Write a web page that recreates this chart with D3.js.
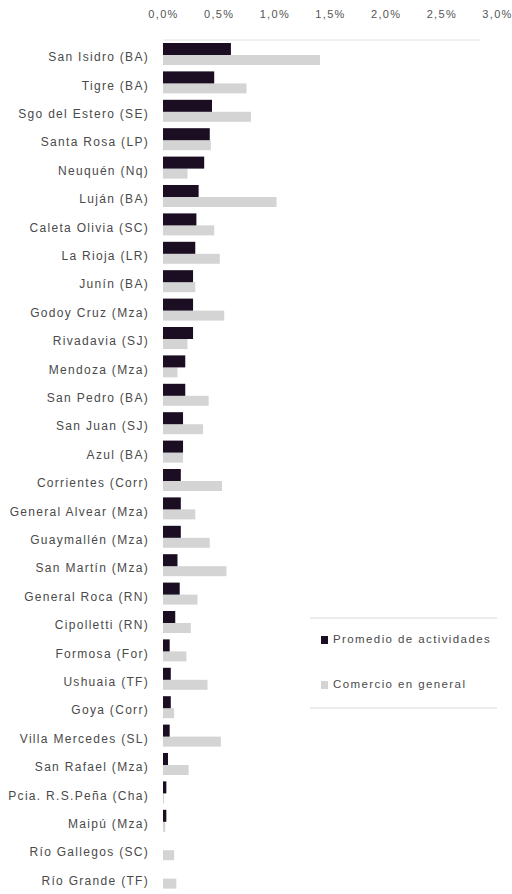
<!DOCTYPE html>
<html>
<head>
<meta charset="utf-8">
<script src="https://cdn.jsdelivr.net/npm/d3@7"></script>
<style>
  body { margin: 0; background: #fff; }
  text { font-family: "Liberation Sans", Arial, sans-serif; }
</style>
</head>
<body>
<div id="chart"></div>
<script>
var width = 512;
var height = 894;

var ciudades = [
  "San Isidro  (BA)", "Tigre (BA)", "Sgo del Estero (SE)", "Santa Rosa (LP)",
  "Neuquén  (Nq)", "Luján (BA)", "Caleta Olivia (SC)", "La Rioja (LR)",
  "Junín (BA)", "Godoy Cruz (Mza)", "Rivadavia (SJ)", "Mendoza (Mza)",
  "San Pedro (BA)", "San Juan (SJ)", "Azul (BA)", "Corrientes (Corr)",
  "General Alvear (Mza)", "Guaymallén (Mza)", "San Martín (Mza)", "General Roca (RN)",
  "Cipolletti (RN)", "Formosa (For)", "Ushuaia (TF)", "Goya (Corr)",
  "Villa Mercedes (SL)", "San Rafael (Mza)", "Pcia. R.S.Peña (Cha)", "Maipú (Mza)",
  "Río Gallegos (SC)", "Río Grande (TF)"
];

// valores en %
var promedio = [
  0.61, 0.46, 0.44, 0.42, 0.37, 0.32, 0.30, 0.29, 0.27, 0.27,
  0.27, 0.20, 0.20, 0.18, 0.18, 0.16, 0.16, 0.16, 0.13, 0.15,
  0.11, 0.06, 0.07, 0.07, 0.06, 0.045, 0.03, 0.03, 0, 0
];
var comercio = [
  1.41, 0.75, 0.79, 0.43, 0.22, 1.02, 0.46, 0.51, 0.29, 0.55,
  0.22, 0.13, 0.41, 0.36, 0.18, 0.53, 0.29, 0.42, 0.57, 0.31,
  0.25, 0.21, 0.40, 0.10, 0.52, 0.23, 0.01, 0.02, 0.10, 0.12
];

var ticks = [0, 0.5, 1, 1.5, 2, 2.5, 3];
var series = ["Promedio de actividades", "Comercio en general"];
var colors = ["#1b0d22", "#d4d4d4"];

var svg = d3
  .select("#chart")
  .append("svg")
  .attr("width", width)
  .attr("height", height);

var x = d3.scaleLinear().domain([0, 3]).range([163, 497]);

var y = d3
  .scaleBand()
  .domain(ciudades)
  .range([40, 40 + ciudades.length * 28.4]);

// eje superior
var xAxis = d3
  .axisTop(x)
  .tickValues(ticks)
  .tickSize(0)
  .tickFormat(function(d) {
    return d.toFixed(1).replace(".", ",") + "%";
  });

var gx = svg
  .append("g")
  .attr("transform", "translate(0,21)")
  .call(xAxis);
gx.select(".domain").remove();
gx.selectAll("text")
  .attr("fill", "#555")
  .style("font-size", "11px")
  .style("letter-spacing", "1.3px");

svg
  .append("line")
  .attr("x1", x(0))
  .attr("x2", x(2.85))
  .attr("y1", 40)
  .attr("y2", 40)
  .attr("stroke", "#e2e2e2")
  .attr("stroke-width", 1);

var rows = svg
  .selectAll(".fila")
  .data(ciudades)
  .enter()
  .append("g")
  .attr("class", "fila")
  .attr("transform", function(d) {
    return "translate(0," + y(d) + ")";
  });

rows
  .append("text")
  .attr("x", 149)
  .attr("y", 18)
  .attr("text-anchor", "end")
  .attr("dominant-baseline", "middle")
  .attr("fill", "#4a4a4a")
  .style("font-size", "12px")
  .style("letter-spacing", "1.3px")
  .text(function(d) {
    return d;
  });

rows
  .append("rect")
  .attr("x", x(0))
  .attr("y", 15)
  .attr("height", 10)
  .attr("width", function(d, i) {
    return x(comercio[i]) - x(0);
  })
  .attr("fill", colors[1]);

rows
  .append("rect")
  .attr("x", x(0))
  .attr("y", 3)
  .attr("height", 12)
  .attr("width", function(d, i) {
    return x(promedio[i]) - x(0);
  })
  .attr("fill", colors[0]);

// leyenda
var legend = svg.append("g");

legend
  .selectAll("line")
  .data([618, 708])
  .enter()
  .append("line")
  .attr("x1", 310)
  .attr("x2", 497)
  .attr("y1", function(d) { return d; })
  .attr("y2", function(d) { return d; })
  .attr("stroke", "#d8d8d8")
  .attr("stroke-width", 1);

var items = legend
  .selectAll(".item")
  .data(series)
  .enter()
  .append("g")
  .attr("class", "item")
  .attr("transform", function(d, i) {
    return "translate(321," + (640 + i * 45) + ")";
  });

items
  .append("rect")
  .attr("x", 0)
  .attr("y", -4)
  .attr("width", 7)
  .attr("height", 8)
  .attr("fill", function(d, i) {
    return colors[i];
  });

items
  .append("text")
  .attr("x", 12)
  .attr("y", 0)
  .attr("dominant-baseline", "middle")
  .attr("fill", "#4a4a4a")
  .style("font-size", "11.5px")
  .style("letter-spacing", "1.4px")
  .text(function(d) {
    return d;
  });
</script>
</body>
</html>
